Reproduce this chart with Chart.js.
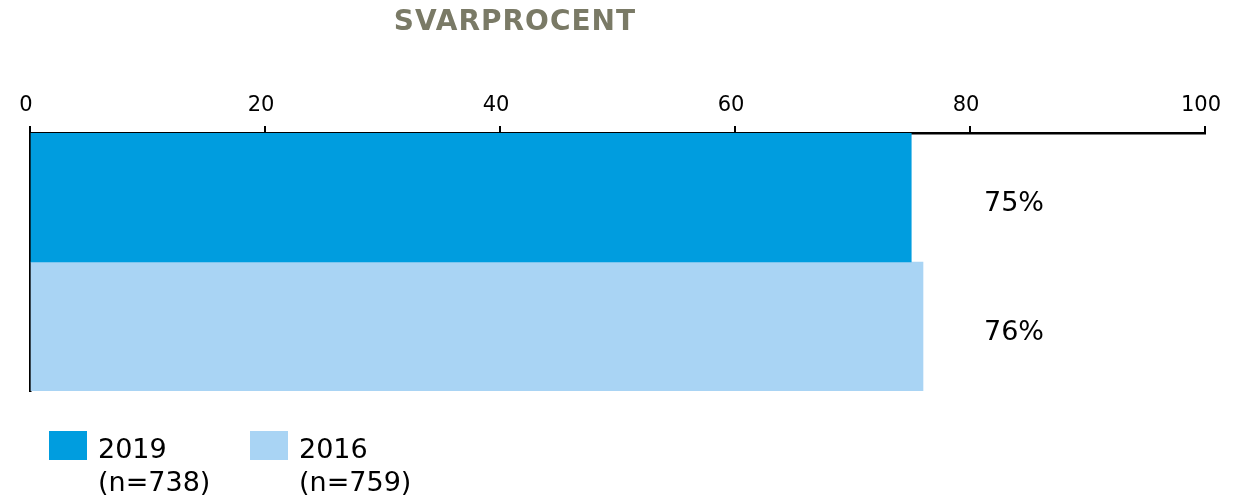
<!DOCTYPE html>
<html>
<head>
<meta charset="utf-8">
<script src="https://cdn.jsdelivr.net/npm/chart.js@4/dist/chart.umd.min.js"></script>
<style>
html,body{margin:0;padding:0;background:#fff;}
#wrap{width:1245px;height:499px;position:relative;}
</style>
</head>
<body>
<div id="wrap"><canvas id="c" width="1245" height="499"></canvas></div>
<script>
const title = 'SVARPROCENT';
const categories = [''];
const seriesNames = ['2019', '2016'];
const seriesSub = ['(n=738)', '(n=759)'];
const values2019 = [75];
const values2016 = [76];
const valueLabels = ['75%', '76%'];
const xTicks = [0, 20, 40, 60, 80, 100];
const colors = ['#009ddf', '#a9d4f4'];

const FONT = '"DejaVu Sans", Verdana, sans-serif';

const overlay = {
  id: 'overlay',
  afterDraw(chart) {
    const ctx = chart.ctx;
    const ca = chart.chartArea;
    ctx.save();
    // title
    ctx.fillStyle = '#7a7a66';
    ctx.font = 'bold 28px ' + FONT;
    ctx.textAlign = 'center';
    ctx.textBaseline = 'alphabetic';
    try { ctx.letterSpacing = '1px'; } catch (e) {}
    ctx.fillText(title, 515, 30);
    try { ctx.letterSpacing = '0px'; } catch (e) {}
    // value labels
    ctx.fillStyle = '#000';
    ctx.font = '27px ' + FONT;
    ctx.textAlign = 'left';
    chart.data.datasets.forEach((ds, i) => {
      const bar = chart.getDatasetMeta(i).data[0];
      ctx.fillText(valueLabels[i], ca.left + 954, bar.y + 13);
    });
    // legend
    const lx = [49, 250];
    chart.data.datasets.forEach((ds, i) => {
      ctx.fillStyle = ds.backgroundColor;
      ctx.fillRect(lx[i], 431, 38, 29);
      ctx.fillStyle = '#000';
      ctx.font = '27px ' + FONT;
      ctx.fillText(seriesNames[i], lx[i] + 49, 458);
      ctx.fillText(seriesSub[i], lx[i] + 49, 491);
    });
    ctx.restore();
  }
};

new Chart(document.getElementById('c'), {
  type: 'bar',
  data: {
    labels: categories,
    datasets: [
      { label: seriesNames[0], data: values2019, backgroundColor: colors[0], borderWidth: 0 },
      { label: seriesNames[1], data: values2016, backgroundColor: colors[1], borderWidth: 0 }
    ]
  },
  options: {
    indexAxis: 'y',
    responsive: false,
    animation: false,
    categoryPercentage: 1,
    barPercentage: 1,
    layout: { padding: { top: 0, left: 0, right: 40, bottom: 108 } },
    plugins: { legend: { display: false }, tooltip: { enabled: false }, title: { display: false } },
    scales: {
      x: {
        position: 'top',
        min: 0, max: 100,
        afterBuildTicks(scale) { scale.ticks = xTicks.map(v => ({ value: v })); },
        afterFit(scale) { scale.height = 133; },
        ticks: { color: '#000', font: { family: FONT, size: 21 }, padding: 8, maxRotation: 0, labelOffset: -4 },
        grid: { display: true, drawOnChartArea: false, drawTicks: true, tickLength: 7, color: '#000', lineWidth: 2 },
        border: { display: true, color: '#000', width: 2.5 }
      },
      y: {
        z: 1,
        afterFit(scale) { scale.width = 30; },
        ticks: { display: false },
        grid: { display: false },
        border: { display: true, color: '#000', width: 2.5 }
      }
    }
  },
  plugins: [overlay]
});
</script>
</body>
</html>
